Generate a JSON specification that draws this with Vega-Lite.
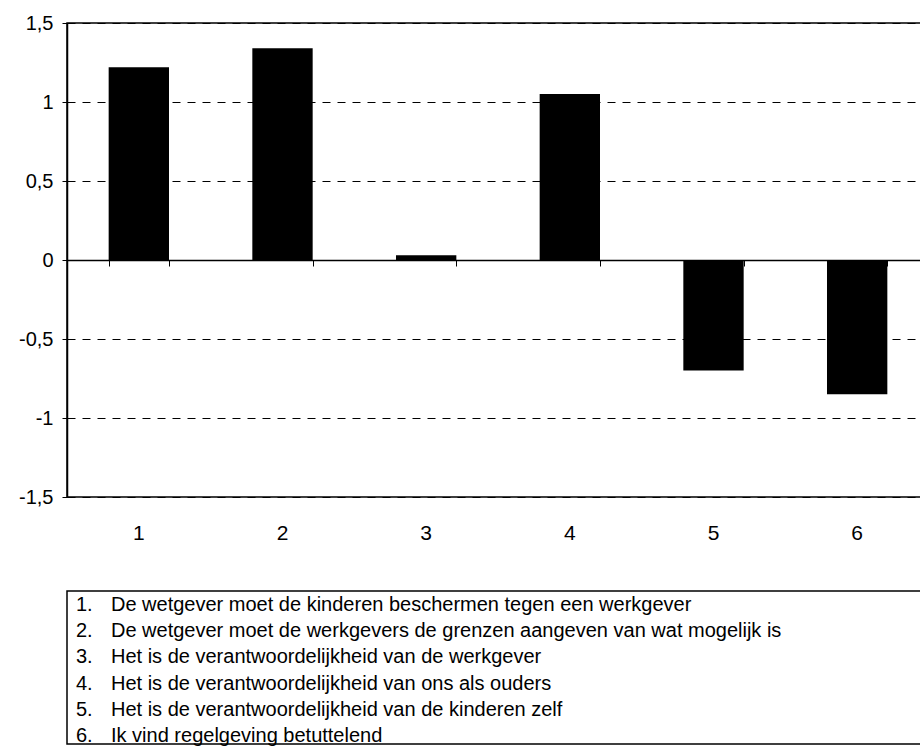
{
  "$schema": "https://vega.github.io/schema/vega-lite/v6.json",
  "padding": {"left": 17, "top": 12, "right": 0, "bottom": 0},
  "bounds": "flush",
  "spacing": 94,
  "config": {
    "font": "Liberation Sans",
    "view": {"stroke": "black", "strokeWidth": 1.5},
    "axis": {"labelColor": "black", "labelFont": "Liberation Sans", "domainColor": "black", "tickColor": "black"}
  },
  "vconcat": [
    {
      "width": 862,
      "height": 474,
      "data": {"values": [
        {"item": "1", "value": 1.22},
        {"item": "2", "value": 1.34},
        {"item": "3", "value": 0.03},
        {"item": "4", "value": 1.05},
        {"item": "5", "value": -0.70},
        {"item": "6", "value": -0.85}
      ]},
      "layer": [
        {
          "mark": {"type": "bar", "color": "black"},
          "encoding": {
            "x": {"field": "item", "type": "ordinal",
              "scale": {"paddingInner": 0.58, "paddingOuter": 0.29},
              "axis": {"orient": "bottom", "title": null, "domain": false, "ticks": false, "tickSize": 0, "labelPadding": 25, "labelFontSize": 21, "labelAngle": 0, "grid": false}},
            "y": {"field": "value", "type": "quantitative",
              "scale": {"domain": [-1.5, 1.5], "nice": false, "zero": false},
              "axis": {"title": null, "values": [-1.5, -1, -0.5, 0, 0.5, 1, 1.5], "grid": true, "gridDash": [8, 7], "gridColor": "black", "gridWidth": 1, "gridOpacity": 1, "tickSize": 5, "labelPadding": 9, "labelFontSize": 20, "labelExpr": "replace(toString(datum.value), '.', ',')", "domain": true, "domainWidth": 1.5}}
          }
        },
        {
          "mark": {"type": "bar", "opacity": 0},
          "encoding": {
            "x": {"field": "item", "type": "ordinal",
              "axis": {"orient": "bottom", "offset": -237, "title": null, "labels": false, "ticks": true, "tickSize": 6, "tickBand": "extent", "domain": true, "domainWidth": 1.5, "tickWidth": 1, "grid": false}}
          }
        }
      ],
      "resolve": {"axis": {"x": "independent"}}
    },
    {
      "width": 860,
      "height": 153,
      "data": {"values": [
        {"nr": 1, "num": "1.", "text": "De wetgever moet de kinderen beschermen tegen een werkgever"},
        {"nr": 2, "num": "2.", "text": "De wetgever moet de werkgevers de grenzen aangeven van wat mogelijk is"},
        {"nr": 3, "num": "3.", "text": "Het is de verantwoordelijkheid van de werkgever"},
        {"nr": 4, "num": "4.", "text": "Het is de verantwoordelijkheid van ons als ouders"},
        {"nr": 5, "num": "5.", "text": "Het is de verantwoordelijkheid van de kinderen zelf"},
        {"nr": 6, "num": "6.", "text": "Ik vind regelgeving betuttelend"}
      ]},
      "encoding": {
        "y": {"field": "nr", "type": "ordinal", "axis": null, "scale": {"padding": 0.4}}
      },
      "layer": [
        {
          "mark": {"type": "text", "align": "left", "baseline": "middle", "dx": 9, "dy": 3, "fontSize": 20, "color": "black"},
          "encoding": {
            "x": {"datum": 0, "type": "quantitative", "scale": {"domain": [0, 1]}, "axis": null},
            "text": {"field": "num"}
          }
        },
        {
          "mark": {"type": "text", "align": "left", "baseline": "middle", "dx": 44, "dy": 3, "fontSize": 20, "color": "black"},
          "encoding": {
            "x": {"datum": 0, "type": "quantitative", "scale": {"domain": [0, 1]}, "axis": null},
            "text": {"field": "text"}
          }
        }
      ]
    }
  ]
}
